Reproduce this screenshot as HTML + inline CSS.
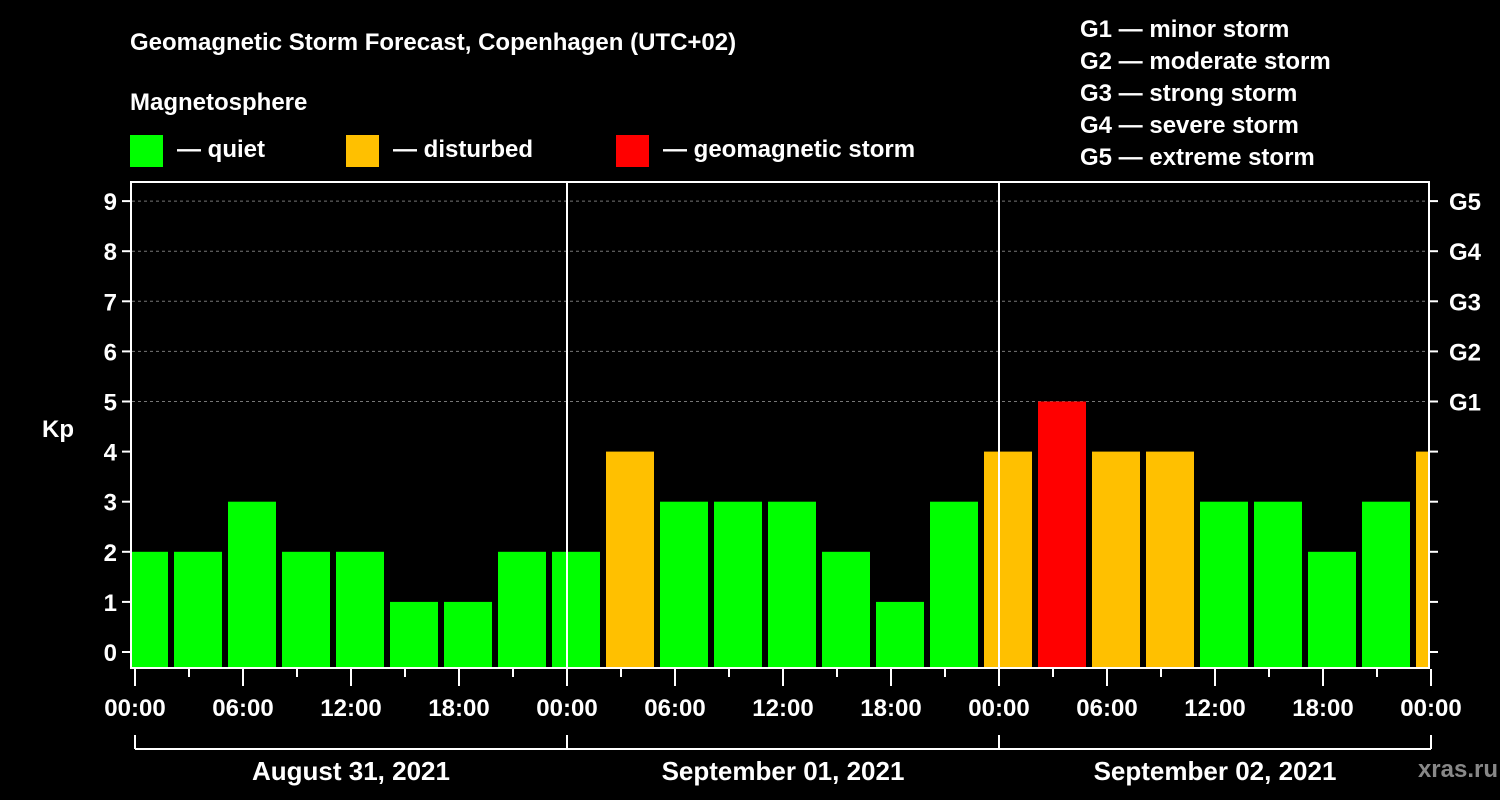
<!DOCTYPE html>
<html><head><meta charset="utf-8"><style>
html,body{margin:0;padding:0;background:#000;}
svg{display:block;font-family:"Liberation Sans",sans-serif;font-weight:bold;}
</style></head><body>
<svg width="1500" height="800" viewBox="0 0 1500 800">
<text x="130" y="50" fill="#fff" font-size="24">Geomagnetic Storm Forecast, Copenhagen (UTC+02)</text>
<text x="130" y="110" fill="#fff" font-size="24">Magnetosphere</text>
<g><rect x="130" y="135" width="33" height="32" fill="#00ff00"/><text x="177" y="157" fill="#fff" font-size="24">— quiet</text></g>
<g><rect x="346" y="135" width="33" height="32" fill="#ffc000"/><text x="393" y="157" fill="#fff" font-size="24">— disturbed</text></g>
<g><rect x="616" y="135" width="33" height="32" fill="#ff0000"/><text x="663" y="157" fill="#fff" font-size="24">— geomagnetic storm</text></g>
<g fill="#fff" font-size="24">
<text x="1080" y="37">G1 — minor storm</text>
<text x="1080" y="69">G2 — moderate storm</text>
<text x="1080" y="101">G3 — strong storm</text>
<text x="1080" y="133">G4 — severe storm</text>
<text x="1080" y="165">G5 — extreme storm</text>
</g>
<text x="42" y="437" fill="#fff" font-size="24">Kp</text>
<text x="1498" y="777" fill="#888" font-size="24" text-anchor="end">xras.ru</text>
<g id="grid"></g>
<defs><clipPath id="pc"><rect x="132" y="182" width="1296" height="486"/></clipPath></defs>
<g id="bars" clip-path="url(#pc)"></g>
<g id="axes"></g>
</svg>
<script>
const kpValues=[2,2,3,2,2,1,1,2,2,4,3,3,3,2,1,3,4,5,4,4,3,3,2,3,4];
const yTicks=[0,1,2,3,4,5,6,7,8,9];
const gLabels=["G1","G2","G3","G4","G5"];
const timeLabels=["00:00","06:00","12:00","18:00"];
const dayLabels=["August 31, 2021","September 01, 2021","September 02, 2021"];
const NS="http://www.w3.org/2000/svg";
const x0=135,pxPerHour=18,utcOffset=2;
const yScale=v=>652-v*50.1;
const xScale=h=>x0+h*pxPerHour;
function mk(tag,attrs,parent,txt){const e=document.createElementNS(NS,tag);for(const k in attrs)e.setAttribute(k,attrs[k]);if(txt!==undefined)e.textContent=txt;parent.appendChild(e);return e;}
const grid=document.getElementById('grid'),bars=document.getElementById('bars'),axes=document.getElementById('axes');
for(let k=5;k<=9;k++){const l=mk('line',{x1:132,x2:1428,y1:yScale(k),y2:yScale(k),stroke:'#777','stroke-dasharray':'3,3','stroke-width':1},grid);

}
kpValues.forEach((v,i)=>{const start=-3+utcOffset+i*3;const xa=xScale(start)+3,xb=xScale(start+3)-3;
const c=v>=5?'#ff0000':(v>=4?'#ffc000':'#00ff00');
const r=mk('rect',{x:xa,y:yScale(v),width:xb-xa,height:668-yScale(v),fill:c},bars);

});
// frame
const f=mk('rect',{x:131,y:182,width:1298,height:486,fill:'none',stroke:'#fff','stroke-width':2},axes);


[1,2].forEach(d=>{const l=mk('line',{x1:xScale(24*d),x2:xScale(24*d),y1:182,y2:668,stroke:'#fff','stroke-width':2},axes);

});
yTicks.forEach(k=>{const y=yScale(k);
mk('line',{x1:122,x2:131,y1:y,y2:y,stroke:'#fff','stroke-width':2},axes);
mk('line',{x1:1429,x2:1438,y1:y,y2:y,stroke:'#fff','stroke-width':2},axes);
const t=mk('text',{x:117,y:y+9,fill:'#fff','font-size':24,'text-anchor':'end'},axes,String(k));

});
gLabels.forEach((g,i)=>{const t=mk('text',{x:1449,y:yScale(5+i)+9,fill:'#fff','font-size':24},axes,g);

});
for(let h=0;h<=72;h+=3){const x=xScale(h);const major=h%6===0;
mk('line',{x1:x,x2:x,y1:669,y2:major?686:677,stroke:'#fff','stroke-width':2},axes);
if(h%6===0&&h%24!==18||h%24===18){}
if(h%6===0){const lab=h===72?"00:00":timeLabels[(h%24)/6];
const t=mk('text',{x:x,y:716,fill:'#fff','font-size':24,'text-anchor':'middle'},axes,lab);

}}
mk('line',{x1:xScale(0),x2:xScale(72),y1:749,y2:749,stroke:'#fff','stroke-width':2},axes);
for(let d=0;d<=3;d++)mk('line',{x1:xScale(24*d),x2:xScale(24*d),y1:735,y2:749,stroke:'#fff','stroke-width':2},axes);
dayLabels.forEach((s,d)=>{const t=mk('text',{x:xScale(24*d+12),y:780,fill:'#fff','font-size':26,'text-anchor':'middle'},axes,s);

});
</script>
</body></html>
